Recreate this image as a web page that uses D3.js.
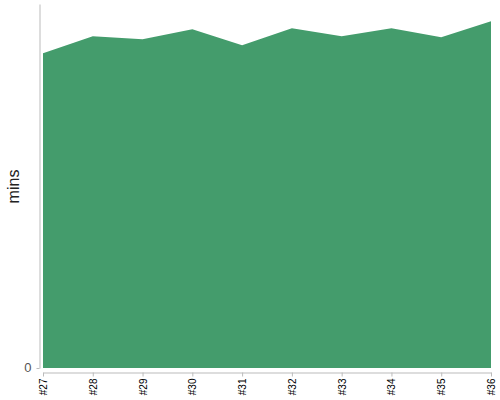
<!DOCTYPE html>
<html><head><meta charset="utf-8">
<script src="https://cdn.jsdelivr.net/npm/d3@7"></script>
<style>body{margin:0;background:#fff}svg{display:block}</style>
</head><body>
<svg id="c" width="500" height="400"></svg>
<script>
const categories = ["#27","#28","#29","#30","#31","#32","#33","#34","#35","#36"];
const values = [315, 332, 329, 339, 323, 340, 332, 340, 331, 347];
const yTicks = [0];

const svg = d3.select("#c");
const x = d3.scalePoint().domain(categories).range([43, 491]);
const y = d3.scaleLinear().domain([0, d3.max(values) * 1.05]).range([368, 4]);

const area = d3.area()
  .x((d, i) => x(categories[i]))
  .y0(y(0))
  .y1(d => y(d));

svg.append("path").datum(values).attr("d", area).attr("fill", "#449c6c");

const yAxis = svg.append("g").attr("transform", "translate(39.5,0)")
  .call(d3.axisLeft(y).tickValues(yTicks).tickSize(3).tickPadding(5).tickSizeOuter(0));
yAxis.select(".domain").attr("stroke", "#bbb");
yAxis.selectAll(".tick line").attr("stroke", "#bbb");
yAxis.selectAll(".tick text").attr("font-family", "Liberation Sans, Arial, sans-serif")
  .attr("font-size", 13).attr("fill", "#555").attr("dy", "0.3em");

const xAxis = svg.append("g").attr("transform", "translate(0,372.5)")
  .call(d3.axisBottom(x).tickSize(4).tickSizeOuter(0));
xAxis.select(".domain").attr("stroke", "#bbb");
xAxis.selectAll(".tick line").attr("stroke", "#bbb");
xAxis.selectAll(".tick text")
  .attr("font-family", "Liberation Sans, Arial, sans-serif").attr("font-size", 10).attr("fill", "#000")
  .attr("transform", "rotate(-90)").attr("text-anchor", "end")
  .attr("x", -6).attr("y", 0).attr("dy", "0.35em");

svg.append("text").attr("transform", "translate(19,186.5) rotate(-90)")
  .attr("text-anchor", "middle").attr("font-family", "Liberation Sans, Arial, sans-serif")
  .attr("font-size", 16).attr("fill", "#222").text("mins");
</script>
</body></html>
